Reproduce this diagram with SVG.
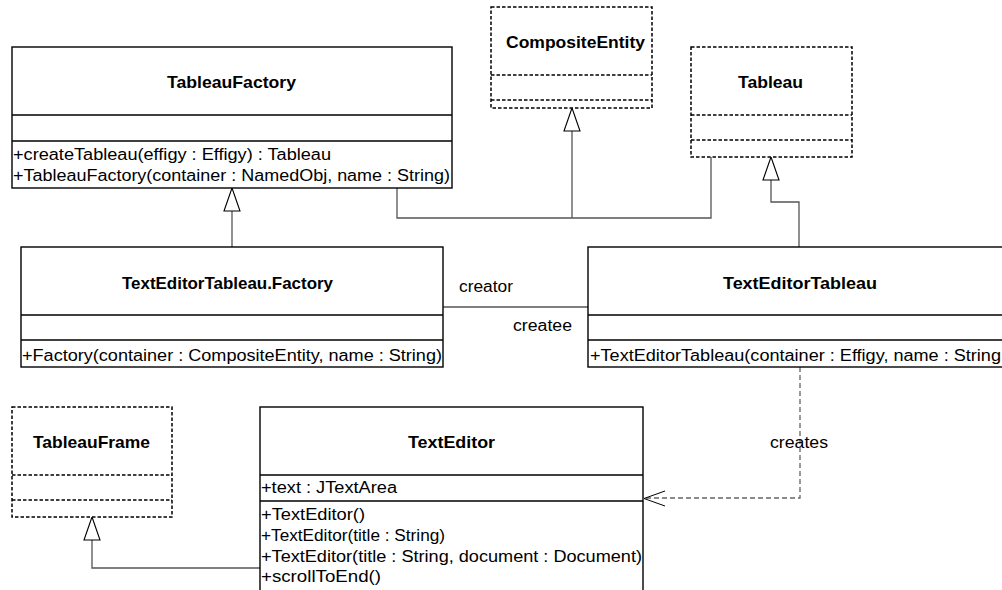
<svg xmlns="http://www.w3.org/2000/svg" width="1002" height="590" viewBox="0 0 1002 590">
<defs>
<style>
.box{fill:#fff;stroke:#000;stroke-width:1.4}
.dbox{fill:#fff;stroke:#000;stroke-width:1.5;stroke-dasharray:3.5,2}
.sep{stroke:#000;stroke-width:1.4}
.dsep{stroke:#000;stroke-width:1.5;stroke-dasharray:3.5,2}
.t{font-family:"Liberation Sans",Arial,sans-serif;font-size:16px;fill:#000}
.b{font-family:"Liberation Sans",Arial,sans-serif;font-size:17px;font-weight:bold;fill:#000}
.c{fill:none;stroke:#555;stroke-width:1.3}
.dc{fill:none;stroke:#666;stroke-width:1.3;stroke-dasharray:5,3}
.tri{fill:#fff;stroke:#000;stroke-width:1.1}
</style>
</defs>
<g id="connectors">
<polyline class="c" points="397,188 397,218 711,218 711,157"/>
<polyline class="c" points="572,131 572,218"/>
<polygon class="tri" points="572,108 564,131 580,131"/>
<polyline class="c" points="771,180 771,202 799,202 799,247"/>
<polygon class="tri" points="771,157 763,180 779,180"/>
<line class="c" x1="232" y1="211" x2="232" y2="247"/>
<polygon class="tri" points="232,188 224,211 240,211"/>
<line class="c" x1="443" y1="307" x2="588" y2="307"/>
<text class="t" x="459" y="292" textLength="54" lengthAdjust="spacingAndGlyphs">creator</text>
<text class="t" x="513" y="331" textLength="59" lengthAdjust="spacingAndGlyphs">createe</text>
<polyline class="c" points="92,540 92,568 260,568"/>
<polygon class="tri" points="92,517 84,540 100,540"/>
<polyline class="dc" points="800,367 800,498 645,498"/>
<polyline fill="none" stroke="#000" stroke-width="1" points="665,491 644,498.5 665,506"/>
<text class="t" x="770" y="448" textLength="58" lengthAdjust="spacingAndGlyphs">creates</text>
</g>
<g id="TableauFactory">
<rect class="box" x="12" y="47" width="440" height="141"/>
<line class="sep" x1="12" y1="115" x2="452" y2="115"/>
<line class="sep" x1="12" y1="141" x2="452" y2="141"/>
<text class="b" x="167" y="88" textLength="129" lengthAdjust="spacingAndGlyphs">TableauFactory</text>
<text class="t" x="13" y="160" textLength="318" lengthAdjust="spacingAndGlyphs">+createTableau(effigy : Effigy) : Tableau</text>
<text class="t" x="13" y="181" textLength="437" lengthAdjust="spacingAndGlyphs">+TableauFactory(container : NamedObj, name : String)</text>
</g>
<g id="CompositeEntity">
<rect class="dbox" x="491" y="7" width="161" height="101"/>
<line class="dsep" x1="491" y1="75" x2="652" y2="75"/>
<line class="dsep" x1="491" y1="100" x2="652" y2="100"/>
<text class="b" x="506" y="48" textLength="139" lengthAdjust="spacingAndGlyphs">CompositeEntity</text>
</g>
<g id="Tableau">
<rect class="dbox" x="691" y="47" width="161" height="110"/>
<line class="dsep" x1="691" y1="115" x2="852" y2="115"/>
<line class="dsep" x1="691" y1="140" x2="852" y2="140"/>
<text class="b" x="738" y="88" textLength="65" lengthAdjust="spacingAndGlyphs">Tableau</text>
</g>
<g id="TextEditorTableauFactory">
<rect class="box" x="21" y="247" width="422" height="120"/>
<line class="sep" x1="21" y1="315" x2="443" y2="315"/>
<line class="sep" x1="21" y1="340" x2="443" y2="340"/>
<text class="b" x="122" y="289" textLength="211" lengthAdjust="spacingAndGlyphs">TextEditorTableau.Factory</text>
<text class="t" x="22" y="361" textLength="420" lengthAdjust="spacingAndGlyphs">+Factory(container : CompositeEntity, name : String)</text>
</g>
<g id="TextEditorTableau">
<rect class="box" x="588" y="247" width="424" height="120"/>
<line class="sep" x1="588" y1="315" x2="1012" y2="315"/>
<line class="sep" x1="588" y1="340" x2="1012" y2="340"/>
<text class="b" x="723" y="289" textLength="154" lengthAdjust="spacingAndGlyphs">TextEditorTableau</text>
<text class="t" x="590" y="361" textLength="411" lengthAdjust="spacingAndGlyphs">+TextEditorTableau(container : Effigy, name : String</text>
</g>
<g id="TableauFrame">
<rect class="dbox" x="12" y="407" width="160" height="110"/>
<line class="dsep" x1="12" y1="475" x2="172" y2="475"/>
<line class="dsep" x1="12" y1="500" x2="172" y2="500"/>
<text class="b" x="33" y="448" textLength="117" lengthAdjust="spacingAndGlyphs">TableauFrame</text>
</g>
<g id="TextEditor">
<rect class="box" x="260" y="407" width="383" height="200"/>
<line class="sep" x1="260" y1="475" x2="643" y2="475"/>
<line class="sep" x1="260" y1="501" x2="643" y2="501"/>
<text class="b" x="408" y="448" textLength="87" lengthAdjust="spacingAndGlyphs">TextEditor</text>
<text class="t" x="261" y="493" textLength="136" lengthAdjust="spacingAndGlyphs">+text : JTextArea</text>
<text class="t" x="261" y="520" textLength="104" lengthAdjust="spacingAndGlyphs">+TextEditor()</text>
<text class="t" x="261" y="541" textLength="184" lengthAdjust="spacingAndGlyphs">+TextEditor(title : String)</text>
<text class="t" x="261" y="562" textLength="381" lengthAdjust="spacingAndGlyphs">+TextEditor(title : String, document : Document)</text>
<text class="t" x="261" y="582" textLength="120" lengthAdjust="spacingAndGlyphs">+scrollToEnd()</text>
</g>
</svg>
